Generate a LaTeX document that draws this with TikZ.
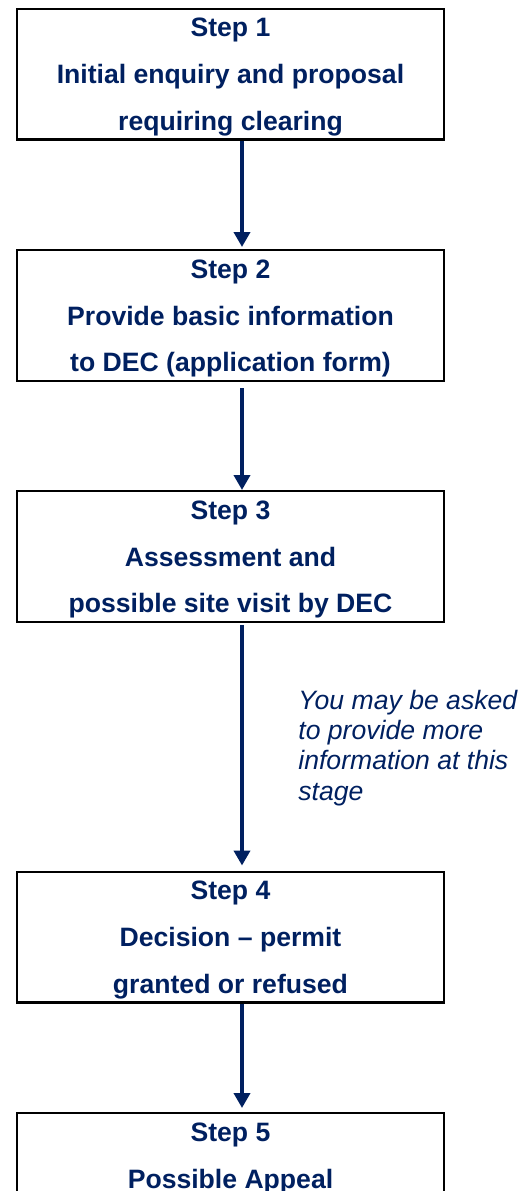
\documentclass[tikz,border=0pt]{standalone}
\usepackage{fontspec}
\setmainfont{Liberation Sans}
\usetikzlibrary{arrows.meta}
\definecolor{navy}{HTML}{002060}
\begin{document}
\begin{tikzpicture}[x=0.5pt,y=-0.5pt,
  stepbox/.style={draw=black, line width=1.2pt, minimum width=213.5pt, minimum height=65.3pt,
    inner sep=0pt, align=center, text=navy,
    font=\fontsize{13.3}{23.3}\selectfont\bfseries, text height=56.6pt, text depth=0.5pt},
  flow/.style={draw=navy, line width=2pt, -{Triangle[width=8pt,length=7.5pt]}},
  note/.style={text=navy, font=\fontsize{13.3}{15.15}\selectfont\itshape, align=left,
    inner sep=0pt, anchor=base west}]
\useasboundingbox (0,0) rectangle (522,1191);
\clip (0,0) rectangle (522,1191);
\node[stepbox] (b1) at (230.5,74) {Step 1\\Initial enquiry and proposal\\requiring clearing};
\node[stepbox] (b2) at (230.5,315.5) {Step 2\\Provide basic information\\to DEC (application form)};
\node[stepbox] (b3) at (230.5,556.5) {Step 3\\Assessment and\\possible site visit by DEC};
\node[stepbox] (b4) at (230.5,937) {Step 4\\Decision -- permit\\granted or refused};
\node[stepbox] (b5) at (230.5,1178.5) {Step 5\\Possible Appeal\\\mbox{}};
\coordinate (ax) at (242,0);
\draw[flow] (b1.south -| ax) -- ([yshift=1pt]b2.north -| ax);
\draw[flow] ([yshift=-3pt]b2.south -| ax) -- (b3.north -| ax);
\draw[flow] ([yshift=-1pt]b3.south -| ax) -- ([yshift=2.5pt]b4.north -| ax);
\draw[flow] (b4.south -| ax) -- ([yshift=2pt]b5.north -| ax);
\node[note] (n1) at (298,800) {You may be asked\\to provide more\\information at this\\stage};
\end{tikzpicture}
\end{document}
